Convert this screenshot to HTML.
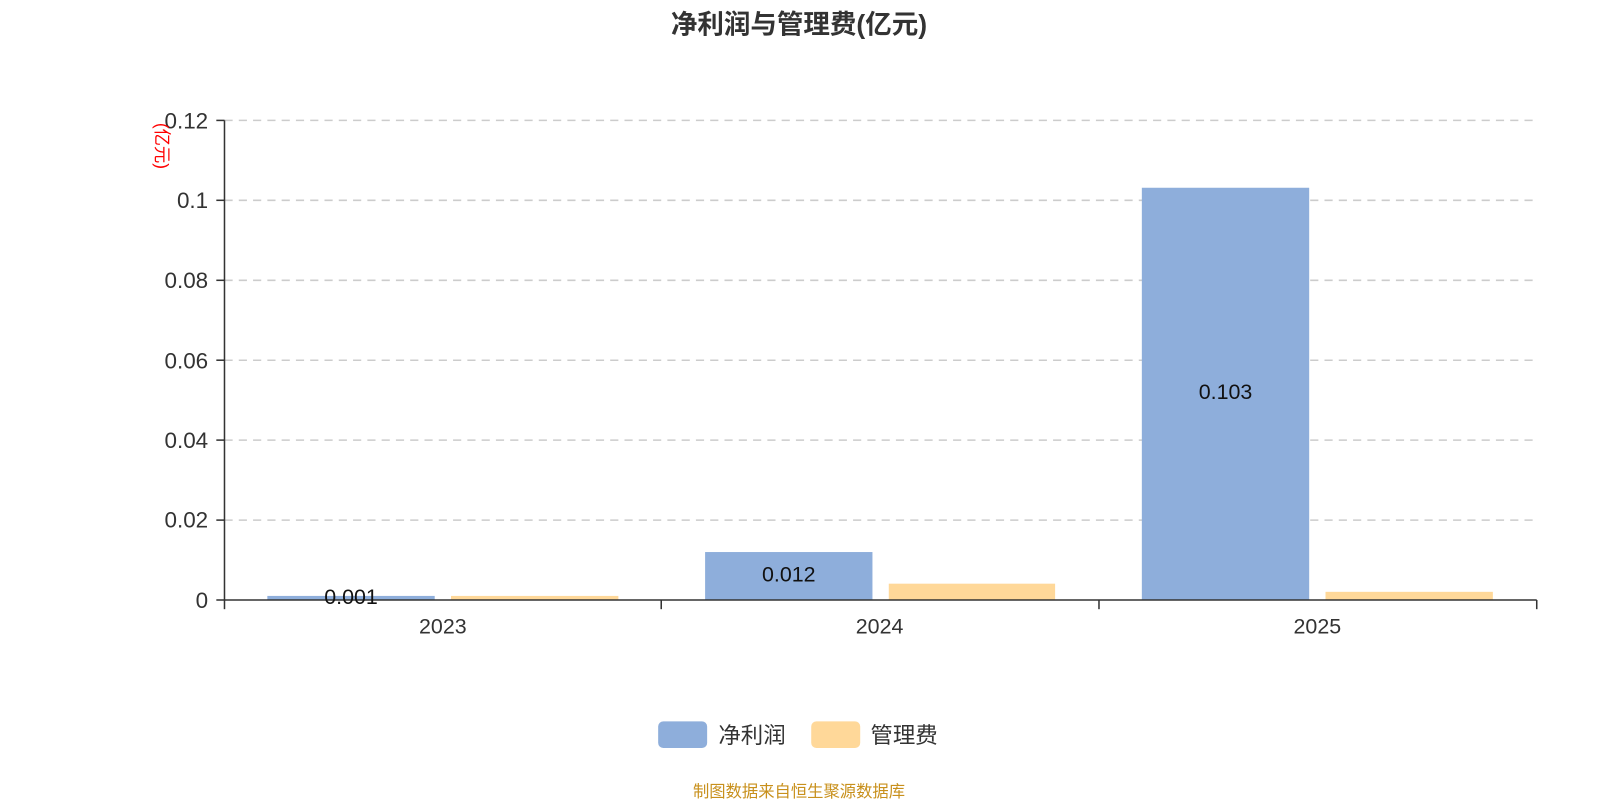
<!DOCTYPE html>
<html><head><meta charset="utf-8"><style>html,body{margin:0;padding:0;background:#fff;}svg{display:block}</style></head><body>
<svg width="1600" height="800" viewBox="0 0 1568 784" xmlns="http://www.w3.org/2000/svg" font-family="'Liberation Sans','Noto Sans CJK SC',sans-serif">
<text x="783" y="33" text-anchor="middle" font-size="26" font-weight="bold" fill="#333">净利润与管理费(亿元)</text>
<g stroke="#ccc" stroke-width="1.5" stroke-dasharray="8,6">
<line x1="220" y1="118" x2="1506" y2="118"/><line x1="220" y1="196.3" x2="1506" y2="196.3"/><line x1="220" y1="274.7" x2="1506" y2="274.7"/><line x1="220" y1="353" x2="1506" y2="353"/><line x1="220" y1="431.3" x2="1506" y2="431.3"/><line x1="220" y1="509.7" x2="1506" y2="509.7"/>
</g>
<rect x="262" y="584" width="164" height="4" fill="#8eaedb"/>
<rect x="442" y="584" width="164" height="4" fill="#ffd899"/>
<rect x="691" y="541" width="164" height="47" fill="#8eaedb"/>
<rect x="871" y="572" width="163" height="16" fill="#ffd899"/>
<rect x="1119" y="184" width="164" height="404" fill="#8eaedb"/>
<rect x="1299" y="580" width="164" height="8" fill="#ffd899"/>
<g stroke="#333" stroke-width="1.5">
<line x1="220" y1="118" x2="220" y2="588"/><line x1="220" y1="588" x2="1506" y2="588"/>
<line x1="212" y1="118" x2="220" y2="118"/><line x1="212" y1="196.3" x2="220" y2="196.3"/><line x1="212" y1="274.7" x2="220" y2="274.7"/><line x1="212" y1="353" x2="220" y2="353"/><line x1="212" y1="431.3" x2="220" y2="431.3"/><line x1="212" y1="509.7" x2="220" y2="509.7"/><line x1="212" y1="588" x2="220" y2="588"/>
<line x1="220" y1="588" x2="220" y2="597"/><line x1="648" y1="588" x2="648" y2="597"/><line x1="1077" y1="588" x2="1077" y2="597"/><line x1="1506" y1="588" x2="1506" y2="597"/>
</g>
<g font-size="22" fill="#333" text-anchor="end">
<text x="204" y="126">0.12</text><text x="204" y="204">0.1</text><text x="204" y="282">0.08</text><text x="204" y="361">0.06</text><text x="204" y="439">0.04</text><text x="204" y="517">0.02</text><text x="204" y="596">0</text>
</g>
<g font-size="21" fill="#333" text-anchor="middle">
<text x="434" y="621">2023</text><text x="862" y="621">2024</text><text x="1291" y="621">2025</text>
</g>
<g font-size="21" fill="#111" text-anchor="middle">
<text x="344" y="592">0.001</text><text x="773" y="570">0.012</text><text x="1201" y="391">0.103</text>
</g>
<text transform="translate(153,143) rotate(90)" text-anchor="middle" font-size="17" fill="#f00">(亿元)</text>
<rect x="645" y="707" width="48" height="26" rx="5" fill="#8eaedb"/>
<text x="704" y="728" font-size="22" fill="#333">净利润</text>
<rect x="795" y="707" width="48" height="26" rx="5" fill="#ffd899"/>
<text x="853" y="728" font-size="22" fill="#333">管理费</text>
<text x="783" y="781" text-anchor="middle" font-size="16" fill="#c8901c">制图数据来自恒生聚源数据库</text>
</svg>
</body></html>
